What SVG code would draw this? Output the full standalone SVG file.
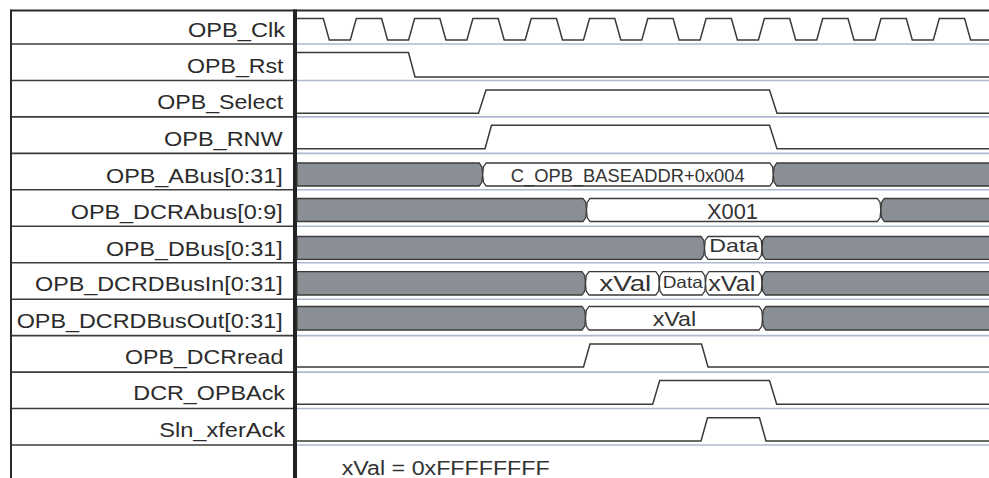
<svg xmlns="http://www.w3.org/2000/svg" width="989" height="478" viewBox="0 0 989 478">
<style>
.lbl{font-family:"Liberation Sans",Arial,sans-serif;font-size:21px;fill:#2b2b2b}
.val{font-family:"Liberation Sans",Arial,sans-serif;fill:#333}
.sig{fill:none;stroke:#3a3a3a;stroke-width:1.5;stroke-linejoin:miter}
.bus{fill:#8a8f95;stroke:#3a3a3a;stroke-width:1.3}
.busv{fill:#fff;stroke:#3a3a3a;stroke-width:1.3}
.ldiv{stroke:#3c3c3c;stroke-width:1.6}
.wdiv{stroke:#aeb8d0;stroke-width:1.6}
</style>
<rect x="0" y="0" width="989" height="478" fill="#fff"/>
<g id="grid">
<line class="wdiv" x1="297" y1="44" x2="989" y2="44"/>
<line class="wdiv" x1="297" y1="80.5" x2="989" y2="80.5"/>
<line class="wdiv" x1="297" y1="116.9" x2="989" y2="116.9"/>
<line class="wdiv" x1="297" y1="153.4" x2="989" y2="153.4"/>
<line class="wdiv" x1="297" y1="189.8" x2="989" y2="189.8"/>
<line class="wdiv" x1="297" y1="226.3" x2="989" y2="226.3"/>
<line class="wdiv" x1="297" y1="262.7" x2="989" y2="262.7"/>
<line class="wdiv" x1="297" y1="299.2" x2="989" y2="299.2"/>
<line class="wdiv" x1="297" y1="335.6" x2="989" y2="335.6"/>
<line class="wdiv" x1="297" y1="372.1" x2="989" y2="372.1"/>
<line class="wdiv" x1="297" y1="408.5" x2="989" y2="408.5"/>
<line class="wdiv" x1="297" y1="445" x2="989" y2="445"/>
<line class="ldiv" x1="11" y1="44" x2="293" y2="44"/>
<line class="ldiv" x1="11" y1="80.5" x2="293" y2="80.5"/>
<line class="ldiv" x1="11" y1="116.9" x2="293" y2="116.9"/>
<line class="ldiv" x1="11" y1="153.4" x2="293" y2="153.4"/>
<line class="ldiv" x1="11" y1="189.8" x2="293" y2="189.8"/>
<line class="ldiv" x1="11" y1="226.3" x2="293" y2="226.3"/>
<line class="ldiv" x1="11" y1="262.7" x2="293" y2="262.7"/>
<line class="ldiv" x1="11" y1="299.2" x2="293" y2="299.2"/>
<line class="ldiv" x1="11" y1="335.6" x2="293" y2="335.6"/>
<line class="ldiv" x1="11" y1="372.1" x2="293" y2="372.1"/>
<line class="ldiv" x1="11" y1="408.5" x2="293" y2="408.5"/>
<line class="ldiv" x1="11" y1="445" x2="293" y2="445"/>
<line x1="11" y1="10.5" x2="989" y2="10.5" stroke="#2a2a2a" stroke-width="2"/>
<line x1="11" y1="9.5" x2="11" y2="478" stroke="#2a2a2a" stroke-width="2"/>
<line x1="295" y1="9.5" x2="295" y2="478" stroke="#222" stroke-width="4"/>
</g>
<g id="OPB_Clk">
<text class="lbl" x="188" y="36.5" textLength="97" lengthAdjust="spacingAndGlyphs">OPB_Clk</text>
<path class="sig" d="M297,18.5 H323.3 L329.3,40 H350.3 L356.3,18.5 H381.6 L387.6,40 H408.6 L414.6,18.5 H439.9 L445.9,40 H466.9 L472.9,18.5 H498.2 L504.2,40 H525.2 L531.2,18.5 H556.5 L562.5,40 H583.5 L589.5,18.5 H614.8 L620.8,40 H641.8 L647.8,18.5 H673.1 L679.1,40 H700.1 L706.1,18.5 H731.4 L737.4,40 H758.4 L764.4,18.5 H789.7 L795.7,40 H816.7 L822.7,18.5 H848 L854,40 H875 L881,18.5 H906.3 L912.3,40 H933.3 L939.3,18.5 H964.6 L970.6,40 H989"/>
</g>
<g id="OPB_Rst">
<text class="lbl" x="187" y="72.9" textLength="96.5" lengthAdjust="spacingAndGlyphs">OPB_Rst</text>
<path class="sig" d="M297,52.5 H408.5 L415,77 H989"/>
</g>
<g id="OPB_Select">
<text class="lbl" x="157.3" y="109.3" textLength="126" lengthAdjust="spacingAndGlyphs">OPB_Select</text>
<path class="sig" d="M297,113.3 H478.5 L486,90 H769.5 L777,113.3 H989"/>
</g>
<g id="OPB_RNW">
<text class="lbl" x="164" y="145.6" textLength="118.7" lengthAdjust="spacingAndGlyphs">OPB_RNW</text>
<path class="sig" d="M297,148.7 H485 L491.5,125.3 H769.5 L777,148.7 H989"/>
</g>
<g id="OPB_ABus">
<text class="lbl" x="106" y="182.5" textLength="176.7" lengthAdjust="spacingAndGlyphs">OPB_ABus[0:31]</text>
<path class="bus" d="M297,163 H479.2 L482,167 L482.7,174.5 L482,182 L479.2,186 H297 Z"/>
<path class="busv" d="M482.7,174.5 L483.4,167 L486.2,163 H769.8 L772.6,167 L773.3,174.5 L772.6,182 L769.8,186 H486.2 L483.4,182 Z"/>
<path class="bus" d="M773.3,174.5 L774,167 L776.8,163 H990 V186 H776.8 L774,182 Z"/>
<text class="val" x="510.7" y="181.5" font-size="18" textLength="234" lengthAdjust="spacingAndGlyphs">C_OPB_BASEADDR+0x004</text>
</g>
<g id="OPB_DCRAbus">
<text class="lbl" x="70.7" y="219.3" textLength="212" lengthAdjust="spacingAndGlyphs">OPB_DCRAbus[0:9]</text>
<path class="bus" d="M297,198.5 H583 L585.8,202.5 L586.5,210 L585.8,217.5 L583,221.5 H297 Z"/>
<path class="busv" d="M586.5,210 L587.2,202.5 L590,198.5 H877.3 L880.1,202.5 L880.8,210 L880.1,217.5 L877.3,221.5 H590 L587.2,217.5 Z"/>
<path class="bus" d="M880.8,210 L881.5,202.5 L884.3,198.5 H990 V221.5 H884.3 L881.5,217.5 Z"/>
<text class="val" x="707" y="219.3" font-size="22" textLength="51" lengthAdjust="spacingAndGlyphs">X001</text>
</g>
<g id="OPB_DBus">
<text class="lbl" x="106" y="255.5" textLength="176.7" lengthAdjust="spacingAndGlyphs">OPB_DBus[0:31]</text>
<path class="bus" d="M297,236.5 H701 L703.8,240.5 L704.5,247.9 L703.8,255.3 L701,259.3 H297 Z"/>
<path class="busv" d="M704.5,247.9 L705.2,240.5 L708,236.5 H758.5 L761.3,240.5 L762,247.9 L761.3,255.3 L758.5,259.3 H708 L705.2,255.3 Z"/>
<path class="bus" d="M762,247.9 L762.7,240.5 L765.5,236.5 H990 V259.3 H765.5 L762.7,255.3 Z"/>
<text class="val" x="709.3" y="251.7" font-size="19" textLength="49" lengthAdjust="spacingAndGlyphs">Data</text>
</g>
<g id="OPB_DCRDBusIn">
<text class="lbl" x="35" y="291" textLength="247.7" lengthAdjust="spacingAndGlyphs">OPB_DCRDBusIn[0:31]</text>
<path class="bus" d="M297,271.7 H582 L584.8,275.7 L585.5,283.4 L584.8,291 L582,295 H297 Z"/>
<path class="busv" d="M585.5,283.4 L586.2,275.7 L589,271.7 H655.8 L658.6,275.7 L659.3,283.4 L658.6,291 L655.8,295 H589 L586.2,291 Z"/>
<path class="busv" d="M659.3,283.4 L660,275.7 L662.8,271.7 H702 L704.8,275.7 L705.5,283.4 L704.8,291 L702,295 H662.8 L660,291 Z"/>
<path class="busv" d="M705.5,283.4 L706.2,275.7 L709,271.7 H758.5 L761.3,275.7 L762,283.4 L761.3,291 L758.5,295 H709 L706.2,291 Z"/>
<path class="bus" d="M762,283.4 L762.7,275.7 L765.5,271.7 H990 V295 H765.5 L762.7,291 Z"/>
<text class="val" x="599.3" y="291" font-size="21.5" textLength="52" lengthAdjust="spacingAndGlyphs">xVal</text>
<text class="val" x="662.7" y="288.3" font-size="16.5" textLength="40" lengthAdjust="spacingAndGlyphs">Data</text>
<text class="val" x="708.3" y="291" font-size="21.5" textLength="47" lengthAdjust="spacingAndGlyphs">xVal</text>
</g>
<g id="OPB_DCRDBusOut">
<text class="lbl" x="16.7" y="327.8" textLength="266" lengthAdjust="spacingAndGlyphs">OPB_DCRDBusOut[0:31]</text>
<path class="bus" d="M297,306.5 H582 L584.8,310.5 L585.5,318.3 L584.8,326 L582,330 H297 Z"/>
<path class="busv" d="M585.5,318.3 L586.2,310.5 L589,306.5 H759 L761.8,310.5 L762.5,318.3 L761.8,326 L759,330 H589 L586.2,326 Z"/>
<path class="bus" d="M762.5,318.3 L763.2,310.5 L766,306.5 H990 V330 H766 L763.2,326 Z"/>
<text class="val" x="652.7" y="325.5" font-size="21" textLength="43.5" lengthAdjust="spacingAndGlyphs">xVal</text>
</g>
<g id="OPB_DCRread">
<text class="lbl" x="125" y="363.8" textLength="158.3" lengthAdjust="spacingAndGlyphs">OPB_DCRread</text>
<path class="sig" d="M297,367 H583.5 L590,344 H701.5 L708,367 H989"/>
</g>
<g id="DCR_OPBAck">
<text class="lbl" x="133.3" y="400.3" textLength="151.7" lengthAdjust="spacingAndGlyphs">DCR_OPBAck</text>
<path class="sig" d="M297,404.3 H652.7 L659.7,380.5 H769.5 L776.7,404.3 H989"/>
</g>
<g id="Sln_xferAck">
<text class="lbl" x="159.3" y="436.7" textLength="125.7" lengthAdjust="spacingAndGlyphs">Sln_xferAck</text>
<path class="sig" d="M297,441 H701 L707.5,417.8 H759.5 L766,441 H989"/>
</g>
<g id="note">
<text class="val" x="341.7" y="475" font-size="20" textLength="208" lengthAdjust="spacingAndGlyphs">xVal = 0xFFFFFFFF</text>
</g>
</svg>
